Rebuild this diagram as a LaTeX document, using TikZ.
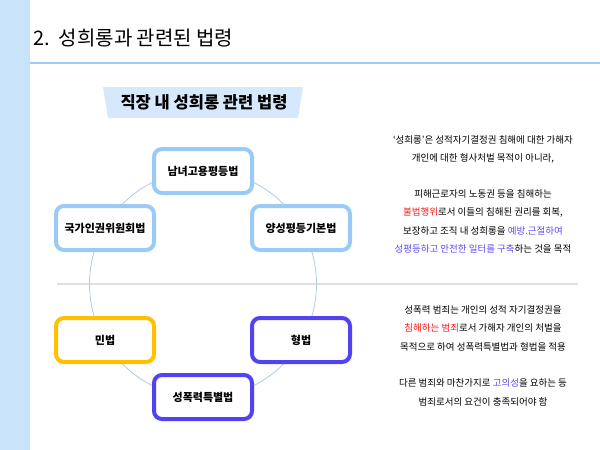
\documentclass[tikz,border=0pt]{standalone}
\usepackage{fontspec}
\setmainfont{Noto Sans CJK KR}
\usepackage{tikz}
\usetikzlibrary{positioning}

\definecolor{barblue}{HTML}{C9E3FB}
\definecolor{lineblue}{HTML}{9DCBF2}
\definecolor{bannerblue}{HTML}{D6E9FC}
\definecolor{lawblue}{HTML}{9ACBF7}
\definecolor{lawyellow}{HTML}{FFC000}
\definecolor{lawpurple}{HTML}{5242F2}
\definecolor{ringblue}{HTML}{AFCBE3}
\definecolor{keyred}{HTML}{FF1A1A}
\definecolor{keyblue}{HTML}{5B4CF0}

\tikzset{
  lawbox/.style={draw=#1,line width=4pt,rounded corners=8pt,fill=white,
    minimum width=98pt,minimum height=44pt,inner sep=0pt,
    font=\bfseries\fontsize{11}{12}\selectfont},
  notes/.style={align=center,font=\fontsize{9.5}{18.5}\selectfont,inner sep=0pt}
}

\begin{document}
\begin{tikzpicture}[x=1pt,y=-1pt]
  \useasboundingbox (0,0) rectangle (600,450);
  \fill[barblue] (0,0) rectangle (30,450);
  \draw[lineblue,line width=1.5pt] (30,63)--(600,63);
  \node[anchor=west,inner sep=0pt,font=\fontsize{20}{22}\selectfont] (title) at (33,38) {2.\ \ 성희롱과 관련된 법령};

  \fill[bannerblue] (103,87)--(303,87)--(298,118)--(108,118)--cycle;
  \node[font=\bfseries\fontsize{16.5}{18}\selectfont] (banner) at (204,102) {직장 내 성희롱 관련 법령};

  \draw[black!12,line width=1.5pt] (57,284)--(578,284);
  \draw[ringblue,line width=0.8pt] (203,284) circle[radius=113.5];

  \foreach \n/\x/\y/\c/\l in {gy/203/171/lawblue/남녀고용평등법, yp/301/228/lawblue/양성평등기본법,
      ng/105/228/lawblue/국가인권위원회법, mb/105/340/lawyellow/민법,
      hb/301/340/lawpurple/형법, sp/203/397/lawpurple/성폭력특별법}{
    \node[lawbox=\c] (\n) at (\x,\y) {\l};
  }

  \node[notes,anchor=north] (upper) at (483,135) {%
    ‘성희롱’은 성적자기결정권 침해에 대한 가해자\\
    개인에 대한 형사처벌 목적이 아니라,\\[17pt]
    피해근로자의 노동권 등을 침해하는\\
    \textcolor{keyred}{불법행위}로서 이들의 침해된 권리를 회복,\\
    보장하고 조직 내 성희롱을 \textcolor{keyblue}{예방.근절하여}\\
    \textcolor{keyblue}{성평등하고 안전한 일터를 구축}하는 것을 목적};

  \node[notes,anchor=north] (lower) at (483,305) {%
    성폭력 범죄는 개인의 성적 자기결정권을\\
    \textcolor{keyred}{침해하는 범죄}로서 가해자 개인의 처벌을\\
    목적으로 하여 성폭력특별법과 형법을 적용\\[18pt]
    다른 범죄와 마찬가지로 \textcolor{keyblue}{고의성}을 요하는 등\\
    범죄로서의 요건이 충족되어야 함};
\end{tikzpicture}
\end{document}
